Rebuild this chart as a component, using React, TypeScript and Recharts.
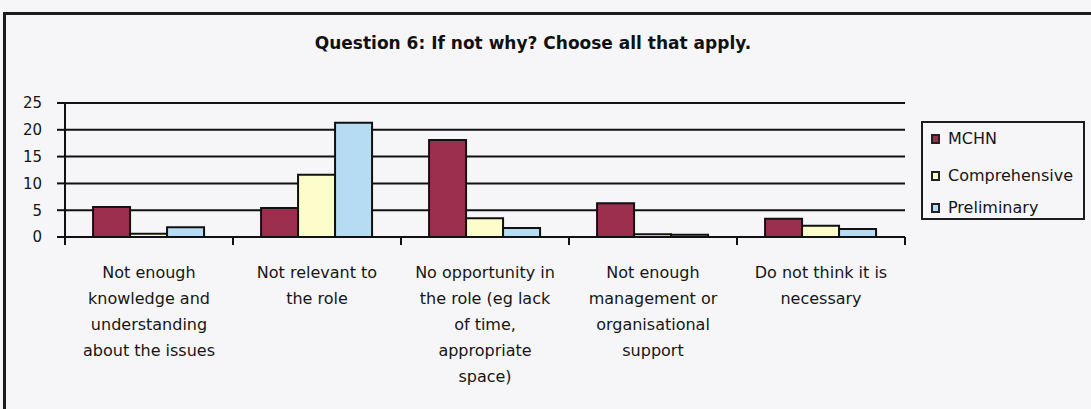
import { Bar, BarChart, CartesianGrid, XAxis, YAxis } from "recharts";

const categoryLines = [
  ["Not enough", "knowledge and", "understanding", "about the issues"],
  ["Not relevant to", "the role"],
  ["No opportunity in", "the role (eg lack", "of time,", "appropriate", "space)"],
  ["Not enough", "management or", "organisational", "support"],
  ["Do not think it is", "necessary"],
];
const mchn = [5.6, 5.4, 18.1, 6.3, 3.4];
const comprehensive = [0.6, 11.6, 3.5, 0.5, 2.1];
const preliminary = [1.8, 21.3, 1.7, 0.4, 1.5];
const yTicks = [0, 5, 10, 15, 20, 25];

const series = [
  { key: "mchn", name: "MCHN", color: "#9c2f4e" },
  { key: "comprehensive", name: "Comprehensive", color: "#fdfccb" },
  { key: "preliminary", name: "Preliminary", color: "#b6dcf4" },
];

const data = categoryLines.map((lines, i) => ({
  name: lines.join(" "),
  mchn: mchn[i],
  comprehensive: comprehensive[i],
  preliminary: preliminary[i],
}));

const W = 1091;
const H = 409;
const LEFT = 65;
const RIGHT = 905;
const BAND = (RIGHT - LEFT) / categoryLines.length;
const FONT = "'DejaVu Sans', Verdana, sans-serif";

function CategoryTick(props: any) {
  const { x, y, index } = props;
  const lines = categoryLines[index] || [];
  const axisY = y - 8;
  return (
    <g>
      <line x1={x - BAND / 2} y1={axisY} x2={x - BAND / 2} y2={axisY + 8} stroke="#111" strokeWidth={2} />
      {index === categoryLines.length - 1 && (
        <line x1={x + BAND / 2} y1={axisY} x2={x + BAND / 2} y2={axisY + 8} stroke="#111" strokeWidth={2} />
      )}
      <text x={x} y={y} textAnchor="middle" fontSize={16} fill="#151515" fontFamily={FONT}>
        {lines.map((l, i) => (
          <tspan key={i} x={x} dy={i === 0 ? 33 : 26}>
            {l}
          </tspan>
        ))}
      </text>
    </g>
  );
}

export default function App() {
  return (
    <div
      style={{
        position: "absolute",
        left: 0,
        top: 0,
        width: W,
        height: H,
        background: "#f6f6f9",
        overflow: "hidden",
        fontFamily: FONT,
      }}
    >
      <div
        style={{
          position: "absolute",
          left: 3,
          top: 12,
          width: 1110,
          height: 430,
          border: "3px solid #1c1c1c",
        }}
      />
      <div
        style={{
          position: "absolute",
          left: 0,
          top: 33,
          width: 1066,
          textAlign: "center",
          fontWeight: "bold",
          fontSize: 17,
          color: "#111",
        }}
      >
        Question 6: If not why? Choose all that apply.
      </div>
      <div style={{ position: "absolute", left: 0, top: 0 }}>
        <BarChart
          width={W}
          height={H}
          data={data}
          margin={{ top: 103, right: W - RIGHT, bottom: 0, left: 0 }}
          barGap={0}
          barCategoryGap="16.7%"
        >
          <CartesianGrid vertical={false} stroke="#111" strokeWidth={2} />
          <XAxis
            dataKey="name"
            height={H - 103 - 134}
            axisLine={{ stroke: "#111", strokeWidth: 2 }}
            tickLine={false}
            tickSize={8}
            tickMargin={0}
            interval={0}
            tick={<CategoryTick />}
          />
          <YAxis
            width={LEFT}
            domain={[0, 25]}
            ticks={yTicks}
            interval={0}
            axisLine={{ stroke: "#111", strokeWidth: 2 }}
            tickLine={{ stroke: "#111", strokeWidth: 2 }}
            tickSize={8}
            tickMargin={15}
            tick={{ fontSize: 15, fill: "#151515", fontFamily: FONT }}
          />
          {series.map((s) => (
            <Bar
              key={s.key}
              dataKey={s.key}
              name={s.name}
              fill={s.color}
              stroke="#111"
              strokeWidth={2}
              isAnimationActive={false}
            />
          ))}
        </BarChart>
      </div>
      <div
        style={{
          position: "absolute",
          left: 921,
          top: 121,
          width: 160,
          height: 95,
          border: "2px solid #1c1c1c",
          fontSize: 16,
          color: "#151515",
        }}
      >
        {series.map((s, i) => (
          <div
            key={s.key}
            style={{
              position: "absolute",
              left: 8,
              top: [6, 43, 75][i],
              display: "flex",
              alignItems: "center",
              whiteSpace: "nowrap",
            }}
          >
            <span
              style={{
                display: "inline-block",
                width: 5,
                height: 6,
                background: s.color,
                border: "2px solid #222",
                marginRight: 8,
              }}
            />
            {s.name}
          </div>
        ))}
      </div>
    </div>
  );
}
